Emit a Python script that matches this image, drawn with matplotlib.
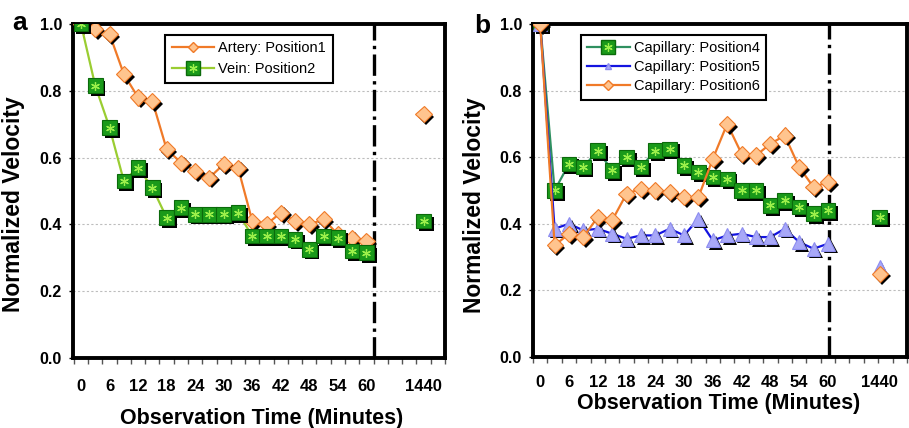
import matplotlib
matplotlib.use('Agg')
import matplotlib.pyplot as plt
import matplotlib.patheffects as pe
from matplotlib.lines import Line2D
from matplotlib.legend_handler import HandlerTuple

plt.rcParams['font.family'] = ['Liberation Sans', 'DejaVu Sans']

# observation times (minutes); the last one sits after a gap on the axis
time_min = [0, 3, 6, 9, 12, 15, 18, 21, 24, 27, 30, 33, 36, 39, 42, 45, 48, 51, 54, 57, 60, 1440]
tick_times = [0, 6, 12, 18, 24, 30, 36, 42, 48, 54, 60, 1440]

# panel a
artery_pos1 = [1.00, 0.985, 0.97, 0.85, 0.78, 0.77, 0.625, 0.585, 0.56, 0.54, 0.58,
               0.57, 0.41, 0.40, 0.435, 0.41, 0.40, 0.415, 0.37, 0.36, 0.35, 0.73]
vein_pos2 = [1.00, 0.815, 0.69, 0.53, 0.57, 0.51, 0.42, 0.45, 0.43, 0.43, 0.43,
             0.435, 0.365, 0.365, 0.365, 0.355, 0.325, 0.365, 0.36, 0.32, 0.315, 0.41]

# panel b
cap_pos4 = [1.00, 0.50, 0.58, 0.57, 0.62, 0.56, 0.60, 0.57, 0.62, 0.625, 0.575,
            0.555, 0.54, 0.535, 0.50, 0.50, 0.455, 0.47, 0.45, 0.43, 0.44, 0.42]
cap_pos5 = [1.00, 0.385, 0.40, 0.38, 0.385, 0.37, 0.355, 0.365, 0.365, 0.385, 0.365,
            0.415, 0.35, 0.365, 0.37, 0.36, 0.36, 0.385, 0.345, 0.325, 0.34, 0.27]
cap_pos6 = [1.00, 0.335, 0.37, 0.36, 0.42, 0.41, 0.49, 0.505, 0.50, 0.495, 0.48,
            0.48, 0.595, 0.70, 0.61, 0.605, 0.64, 0.665, 0.57, 0.51, 0.525, 0.25]

ORANGE = '#F07A28'
PEACH = '#FFC48E'
GREEN_FILL = '#1A9A1A'
GREEN_EDGE = '#0B6A0B'
CROSS = '#9CF04A'
LIGHT_GREEN = '#9ACD32'
TEAL = '#2F9060'
BLUE = '#1414E0'
LAVENDER = '#A8A8F8'

shadow = [pe.SimplePatchShadow(offset=(2, -2), shadow_rgbFace='black', alpha=1.0), pe.Normal()]


def positions(late_pos):
    # 0..60 min on consecutive slots, 1440 after a gap
    return list(range(len(time_min) - 1)) + [late_pos]


def draw_series(ax, x, y, line_color, marker, ms, face, edge, z, cross=False):
    ax.plot(x[:-1], y[:-1], color=line_color, lw=1.6, zorder=z)
    ax.plot(x, y, ls='none', marker=marker, ms=ms, mfc=face, mec=edge, mew=0.8,
            zorder=z + 1, path_effects=shadow)
    if cross:
        ax.plot(x, y, ls='none', marker=(6, 2, 0), ms=ms * 0.6, mec=CROSS, mew=0.9,
                zorder=z + 2)


def style_axes(ax, x, xlim, vline_x, pad):
    ax.set_xlim(*xlim)
    ax.set_ylim(0, 1.0)
    for s in ax.spines.values():
        s.set_linewidth(2.8)
    ax.set_yticks([0, 0.2, 0.4, 0.6, 0.8, 1.0])
    ax.set_yticklabels(['0.0', '0.2', '0.4', '0.6', '0.8', '1.0'])
    ax.tick_params(axis='y', direction='out', length=3, width=1, pad=5,
                   labelsize=11.5)
    for lab in ax.get_yticklabels():
        lab.set_fontweight('bold')
    tpos = [x[time_min.index(t)] for t in tick_times]
    ax.set_xticks(tpos)
    ax.set_xticklabels([str(t) for t in tick_times], fontweight='bold')
    ax.set_xticks([k + 0.5 for k in range(-1, 26)], minor=True)
    ax.tick_params(axis='x', which='major', length=0, pad=pad, labelsize=12)
    ax.tick_params(axis='x', which='minor', direction='out', length=4, width=1,
                   color='#555555')
    for yv in [0.2, 0.4, 0.6, 0.8]:
        ax.axhline(yv, color='#BDBDBD', lw=0.8, ls=(0, (2, 2)), zorder=0)
    ax.axvline(vline_x, color='black', lw=2.4, ls='-.', zorder=1.5)
    ax.set_ylabel('Normalized Velocity', fontsize=16.5, fontweight='bold')
    ax.set_xlabel('Observation Time (Minutes)', fontsize=15.5, fontweight='bold')


def make_legend(ax, handles, labels, anchor, spacing):
    leg = ax.legend(handles, labels, handler_map={tuple: HandlerTuple(ndivide=1)},
                    loc='upper left', bbox_to_anchor=anchor, fontsize=10.5,
                    handlelength=2.9, fancybox=False, framealpha=1, edgecolor='black',
                    borderpad=0.45, labelspacing=spacing, handletextpad=0.3)
    leg.get_frame().set_linewidth(1.5)
    leg.set_zorder(20)
    return leg


fig = plt.figure(figsize=(9.09, 4.28), dpi=100)

# ---- panel a ----
ax1 = fig.add_axes([0.0803, 0.1636, 0.4092, 0.7804])
xa = positions(24)
draw_series(ax1, xa, artery_pos1, ORANGE, 'D', 8.2, PEACH, ORANGE, 3)
draw_series(ax1, xa, vein_pos2, LIGHT_GREEN, 's', 10.5, GREEN_FILL, GREEN_EDGE, 6, cross=True)
style_axes(ax1, xa, (-0.56, 25.45), 20.5, 15)
ax1.yaxis.set_label_coords(-0.128, 0.46)
ax1.xaxis.set_label_coords(0.508, -0.15)

h_art = Line2D([], [], color=ORANGE, lw=1.6, marker='D', ms=5, mfc=PEACH, mec=ORANGE)
h_vein = Line2D([], [], color=LIGHT_GREEN, lw=1.6, marker='s', ms=10, mfc=GREEN_FILL, mec=GREEN_EDGE)
h_vein_x = Line2D([], [], ls='none', marker=(6, 2, 0), ms=6, mec=CROSS, mew=0.9)
make_legend(ax1, [h_art, (h_vein, h_vein_x)], ['Artery: Position1', 'Vein: Position2'],
            (0.228, 0.99), 0.5)
fig.text(0.021, 0.93, 'a', fontsize=19, fontweight='bold', ha='center', va='baseline')

# ---- panel b ----
ax2 = fig.add_axes([0.5864, 0.166, 0.4114, 0.778])
xb = positions(23.6)
draw_series(ax2, xb, cap_pos4, TEAL, 's', 10.5, GREEN_FILL, GREEN_EDGE, 3, cross=True)
draw_series(ax2, xb, cap_pos5, BLUE, '^', 10, LAVENDER, '#8C8CF0', 6)
draw_series(ax2, xb, cap_pos6, ORANGE, 'D', 8.2, PEACH, ORANGE, 9)
style_axes(ax2, xb, (-0.47, 24.88), 20.05, 13)
ax2.yaxis.set_label_coords(-0.127, 0.455)
ax2.xaxis.set_label_coords(0.497, -0.108)

h4 = Line2D([], [], color=TEAL, lw=1.6, marker='s', ms=10, mfc=GREEN_FILL, mec=GREEN_EDGE)
h4x = Line2D([], [], ls='none', marker=(6, 2, 0), ms=6, mec=CROSS, mew=0.9)
h5 = Line2D([], [], color=BLUE, lw=1.6, marker='^', ms=5, mfc=LAVENDER, mec='#8C8CF0')
h6 = Line2D([], [], color=ORANGE, lw=1.6, marker='D', ms=5, mfc=PEACH, mec=ORANGE)
make_legend(ax2, [(h4, h4x), h5, h6],
            ['Capillary: Position4', 'Capillary: Position5', 'Capillary: Position6'],
            (0.108, 0.99), 0.35)
fig.text(0.531, 0.922, 'b', fontsize=19, fontweight='bold', ha='center', va='baseline')

fig.savefig('out.png', dpi=100)
